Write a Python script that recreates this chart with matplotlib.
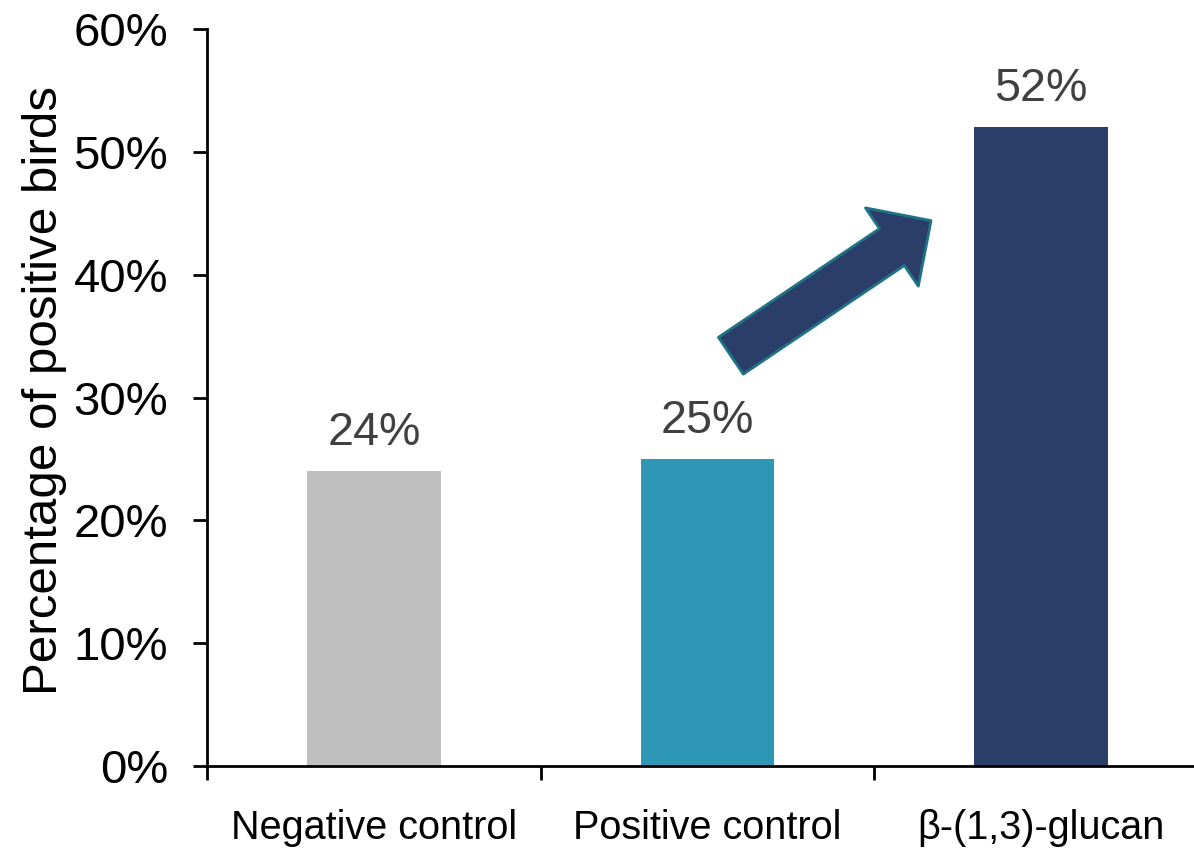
import numpy as np
import matplotlib
matplotlib.use("Agg")
from matplotlib import pyplot as plt
from matplotlib.ticker import FuncFormatter, FixedLocator

# percentage of birds testing positive per treatment group
groups = ["Negative control", "Positive control", "β-(1,3)-glucan"]
positive_pct = [24, 25, 52]
bar_colors = ["#BFBFBF", "#2E97B6", "#2B3D69"]
y_ticks = [0, 10, 20, 30, 40, 50, 60]

# arrow pointing up towards the glucan bar (data coords: x category, y percent)
arrow_tail = (1.07, 33.4)
arrow_tip = (1.67, 44.4)

plt.rcParams["font.family"] = ["Liberation Sans", "DejaVu Sans"]

fig = plt.figure(figsize=(11.94, 8.51), dpi=100)
ax = fig.add_axes([0.1734, 0.0999, 0.8383, 0.866])

x = np.arange(len(groups))
bars = ax.bar(x, positive_pct, width=0.4, color=bar_colors, zorder=2)

for xi, v in zip(x, positive_pct):
    ax.text(xi, v + 1.3, f"{v}%", ha="center", va="bottom",
            fontsize=33.6, color="#404040")

ax.annotate("", xy=arrow_tip, xytext=arrow_tail,
            arrowprops=dict(arrowstyle="simple,head_length=34,head_width=68,tail_width=32",
                            facecolor="#2B3D69", edgecolor="#1F7386", linewidth=2,
                            shrinkA=0, shrinkB=0, mutation_scale=1),
            zorder=3)

ax.set_xlim(-0.5, 2.5)
ax.set_ylim(0, 60)
ax.set_yticks(y_ticks)
ax.yaxis.set_major_formatter(FuncFormatter(lambda v, p: f"{v:.0f}%"))
ax.tick_params(axis="y", labelsize=34, length=10, width=2, pad=18, direction="out")

# category ticks sit between the bars, labels sit under the bars
ax.xaxis.set_major_locator(FixedLocator([-0.5, 0.5, 1.5, 2.5]))
ax.set_xticklabels([])
ax.set_xticks(x, minor=True)
ax.set_xticklabels(groups, minor=True, fontsize=28.5)
ax.tick_params(axis="x", which="major", length=10, width=2, direction="out")
ax.tick_params(axis="x", which="minor", length=0, pad=31)

ax.set_ylabel("Percentage of positive birds", fontsize=35.5, labelpad=5, y=0.51)

for s in ["top", "right"]:
    ax.spines[s].set_visible(False)
for s in ["left", "bottom"]:
    ax.spines[s].set_linewidth(2)

fig.savefig("out.png", dpi=100)
